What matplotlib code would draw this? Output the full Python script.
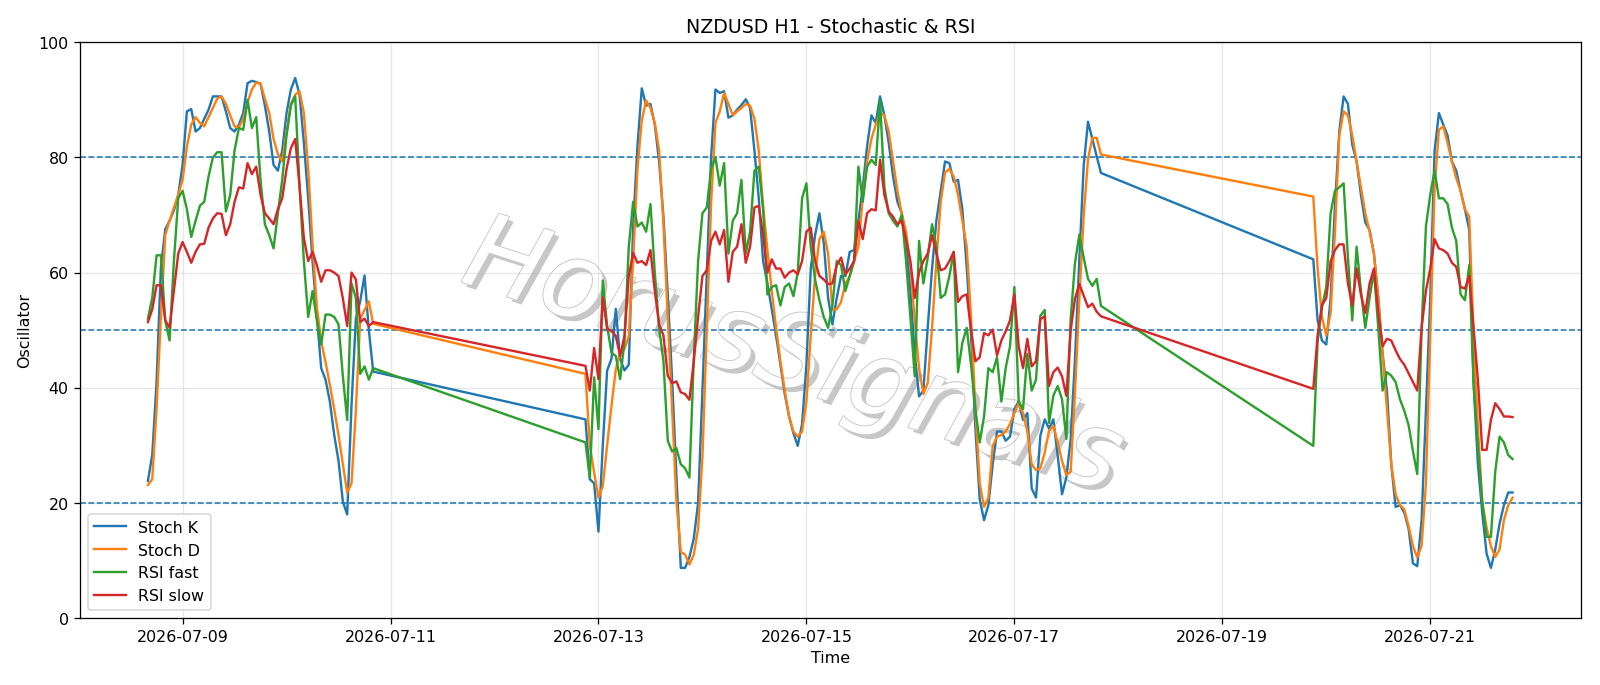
import matplotlib
matplotlib.use("Agg")
import matplotlib.pyplot as plt
import matplotlib.dates as mdates
import matplotlib.patheffects as pe
import numpy as np
import pandas as pd

# ---- data -------------------------------------------------------------
seg_starts = ["2026-07-08 16:00", "2026-07-12 21:00", "2026-07-19 21:00"]
seg_lengths = [53, 120, 47]

stoch_k = [
    # segment 1
    23.8, 28.3, 41, 61, 67.5, 69, 70.8, 73.5, 78.7,
    88, 88.4, 84.5, 85.1, 86.7, 88.3, 90.6, 90.6, 90.6, 88,
    85.1, 84.5, 85.7, 87.7, 92.9, 93.3, 93.1, 92.8, 89, 84.5,
    78.7, 77.7, 81.2, 87.7, 91.8, 93.8, 90.9, 82.5, 72.9, 62,
    52.3, 43.4, 41.4, 37.6, 31.8, 27.3, 20.2, 18, 37, 52,
    55, 59.5, 50, 42.8,
    # segment 2
    34.5, 24.1, 23.4, 15, 30, 43, 45, 53.7, 45, 43,
    44, 68, 82, 92, 89, 89.3, 85.7, 79.3, 69.7, 56.2,
    41.4, 24.7, 8.7, 8.7, 10.6, 13.8, 20, 39.5, 60, 80,
    91.8, 91.2, 91.5, 86.9, 87.3, 88.3, 89.1, 90.1, 88.6, 81.2,
    72.9, 62, 58.1, 53.6, 49.1, 44, 38.9, 35, 32.1, 29.9,
    33.7, 44, 60.7, 66.5, 70.3, 65.2, 55.6, 51, 55.6, 59.4,
    59.4, 63.6, 63.9, 69, 74.8, 81.9, 87.3, 86, 90.6, 87.3,
    82.5, 76.7, 72.3, 70.3, 65.8, 56.8, 45.9, 38.5, 39.5, 50.4,
    60.7, 69, 74.2, 79.3, 79, 75.8, 76.1, 71, 61, 49,
    33, 20.6, 17, 19.6, 26.7, 32.4, 32.4, 30.8, 31.5, 36.3,
    37.6, 34.4, 35.6, 22.5, 20.9, 31.7, 34.5, 32.9, 34.5, 28.2,
    21.5, 24.4, 31.1, 45, 62.3, 78.5, 86.2, 83.2, 80.2, 77.3,
    # segment 3
    62.3, 51.7, 48.2, 47.5, 55.6, 71.6, 84.5, 90.6, 89.3, 82.2,
    79.3, 73.5, 68.7, 67.4, 63.3, 55.6, 45.9, 39.5, 26.7, 19.3,
    19.6, 18.3, 15.5, 9.5, 9, 17, 36, 55.6, 81.2, 87.7,
    85.7, 83.8, 79.3, 77.7, 74.2, 71, 67.4, 40.8, 26.7, 18.3,
    11.2, 8.7, 11.9, 16.4, 19.6, 21.8, 21.8,
]

stoch_d = [
    # segment 1
    23.1, 24.1, 36.3, 52.3, 66.5, 69, 71.3, 73.5, 76.1,
    81.9, 85.7, 87, 86, 85.4, 87, 88.6, 90.2, 90.6, 89.3,
    87.3, 85.4, 85.2, 86.7, 89.6, 91.8, 93, 92.8, 90.2, 87.7,
    83.2, 80.6, 79.3, 84.5, 89.3, 90.9, 91.5, 87.7, 78, 65,
    54, 48, 44.5, 40.5, 36.3, 31.8, 26.7, 21.8, 23.4, 36,
    52, 53.5, 55, 51.1,
    # segment 2
    42.4, 30, 25.3, 20.9, 22.9, 30, 36.8, 43.2, 46.1, 46.7,
    49, 62, 78, 86.4, 89.9, 88.6, 86, 81.2, 68.4, 52.3,
    36.3, 20.2, 11.5, 11, 9.3, 11, 15.5, 28, 50, 72,
    86, 88, 91.2, 89.3, 87.3, 88, 88.6, 89.3, 89, 86.7,
    81.2, 71.6, 63.9, 56.8, 50.4, 44.6, 39.5, 35, 32.4, 31.5,
    32.4, 37.6, 49.1, 59.4, 65.8, 67.1, 63.3, 53.6, 53.6, 54.9,
    58.1, 59.4, 62, 64.5, 72.9, 79.3, 83.2, 85.7, 87.7, 87.3,
    84.5, 79.3, 74.2, 70.3, 67.1, 61.3, 51.7, 43.4, 38.9, 40.8,
    50.4, 62, 72.3, 77.4, 78, 76.7, 73.5, 69, 64.5, 52.3,
    36.3, 23.4, 19.3, 20.9, 29.9, 31.5, 31.8, 32.4, 33.7, 35.6,
    37.3, 35.6, 32.4, 26.7, 25.7, 26, 28.7, 32.5, 33.4, 30.5,
    27.3, 24.8, 25.4, 39.2, 55.4, 69.8, 79.7, 83.4, 83.4, 80.5,
    # segment 3
    73.2, 60.7, 52.3, 49.1, 53, 67.1, 83.8, 88, 87.3, 83.8,
    79.3, 74.8, 70.3, 67.1, 63.3, 55.6, 45.9, 36.3, 26.7, 21.5,
    19.6, 18.9, 16, 12.5, 10.5, 12.5, 23.4, 49, 74.8, 84.8,
    85.4, 82.5, 79.3, 76.4, 74.2, 71, 69.7, 49, 33, 20.2,
    15.7, 12.5, 10.6, 11.9, 17, 19.6, 20.9,
]

rsi_fast = [
    # segment 1
    52, 55.6, 63, 63, 51.7, 48.2, 62, 72.9, 74.2,
    71, 66.2, 69, 71.6, 72.3, 76.7, 80, 80.9, 80.9, 70.6,
    73.5, 81.2, 85.1, 84.8, 90, 85.1, 87, 76, 68.4, 66.5,
    64.2, 70.3, 76.1, 83.8, 89, 90.6, 75, 62, 52.3, 56.8,
    51.7, 47.5, 52.7, 52.7, 52.3, 51, 42, 34.4, 58.1, 55.6,
    42.4, 43.7, 41.4, 43.4,
    # segment 2
    30.5, 24.4, 41.8, 32.8, 58.6, 50.7, 46.1, 45.5, 41.5, 48,
    64.5, 72.3, 68, 68.7, 67.1, 71.9, 60, 50.4, 44.6, 30.8,
    28.9, 29.5, 26.7, 26, 24.4, 45, 62, 70.3, 71.3, 78,
    80, 75.1, 79, 63.3, 69, 70.3, 76.1, 63.3, 67.1, 77.7,
    78.4, 71, 56.2, 57.5, 57.8, 54.3, 57.5, 58.1, 55.9, 60,
    72.9, 75.5, 64.5, 58.8, 55.2, 52.3, 50.4, 54.3, 62, 61.3,
    56.8, 59.4, 62, 78.4, 72.3, 78.4, 79.6, 78.7, 89.9, 74.8,
    70.3, 69, 68, 70, 62, 52.3, 42, 65.5, 58.1, 62.6,
    68.4, 64.5, 55.6, 56.2, 59.4, 63.6, 42.7, 47.8, 50.4, 44,
    36.3, 30.5, 35, 43.4, 42.7, 45.3, 37.6, 43.4, 47.2, 57.5,
    37.6, 36.3, 45.9, 39.5, 41.4, 52.5, 53.5, 33.9, 38.6, 40.3,
    38, 31.1, 52, 61.7, 66.6, 62.6, 58.9, 57.7, 58.9, 54.2,
    # segment 3
    29.9, 48, 54, 57.5, 70.3, 74.2, 74.8, 75.5, 62.6, 51.7,
    64.5, 56.8, 50.4, 55.6, 60.4, 50.4, 39.5, 42.7, 42.1, 41,
    38, 36, 33.5, 29, 25, 50, 68, 73.5, 77.7, 72.9,
    72.9, 71.9, 67.8, 65.5, 56.2, 55.2, 61.3, 40.8, 29.9, 20.2,
    14.1, 14.1, 25.4, 31.5, 30.5, 28.3, 27.6,
]

rsi_slow = [
    # segment 1
    51.4, 53.6, 57.8, 57.8, 51.7, 50.4, 56.8, 63.3, 65.3,
    63.6, 61.7, 63.6, 64.9, 65, 67.8, 69.4, 70.3, 70.2, 66.5,
    68.4, 72.3, 74.8, 74.6, 79, 77.1, 78.4, 73.5, 70.3, 69.4,
    68.4, 71, 72.9, 78, 81.6, 83.2, 75, 66, 62, 63.6,
    61.3, 58.4, 60.4, 60.4, 60, 59.4, 55.5, 50.7, 60, 58.8,
    51.4, 52, 50.7, 51.4,
    # segment 2
    43.8, 39.5, 46.9, 41.5, 55.7, 50.2, 49.9, 49, 45.5, 49,
    59.4, 63.4, 61.7, 62, 61.3, 63.9, 56.8, 51, 49.1, 42.1,
    40.8, 41.1, 39.2, 38.9, 37.9, 44.6, 52.3, 59.4, 60.4, 65.5,
    67.1, 64.9, 67.4, 58.4, 63.6, 64.5, 68.4, 61.7, 64.5, 71.3,
    71.6, 66.5, 60, 62.3, 60.7, 60.7, 59.1, 60, 60.4, 59.7,
    62, 67.1, 67.8, 62, 59.4, 58.8, 58, 58.1, 61.3, 62.6,
    59.7, 60.7, 62, 69, 65.8, 70.3, 71, 70.8, 79.6, 73.5,
    70.6, 69.7, 68.4, 69, 65.8, 62, 55.6, 60, 62, 63.3,
    66.5, 63.3, 60.4, 60.7, 62, 63.6, 54.9, 55.9, 56.2, 50.1,
    44.6, 45.3, 49.5, 49.1, 50.1, 45.6, 48.2, 49.8, 51.7, 56.2,
    47.2, 43.4, 48.5, 43.7, 44.6, 51.9, 52.4, 40.3, 42.7, 43.5,
    42, 38.6, 50, 55.5, 58, 56, 54, 54.6, 53.2, 52.4,
    # segment 3
    39.8, 49.1, 54.3, 55.6, 62, 63.9, 64.9, 64.9, 58.1, 54.3,
    60.7, 56.2, 53, 58.1, 60.7, 53, 47.2, 48.5, 48.2, 46.5,
    45, 44, 42.5, 41, 39.5, 50.4, 56.8, 60.7, 65.8, 64.2,
    63.9, 63.3, 61.7, 61, 57.5, 57.2, 59.4, 50.4, 41.4, 29.2,
    29.2, 34.4, 37.3, 36.3, 35, 35, 34.9,
]

series_labels = ["Stoch K", "Stoch D", "RSI fast", "RSI slow"]
levels = [20, 50, 80]
tick_dates = ["2026-07-09", "2026-07-11", "2026-07-13", "2026-07-15",
              "2026-07-17", "2026-07-19", "2026-07-21"]
title = "NZDUSD H1 - Stochastic & RSI"
watermark = "HorusSignals"

# ---- build time axis ----------------------------------------------------
times = pd.DatetimeIndex(np.concatenate(
    [pd.date_range(s, periods=n, freq="h").values for s, n in zip(seg_starts, seg_lengths)]
))

# ---- figure -------------------------------------------------------------
fig, ax = plt.subplots(figsize=(14, 6), dpi=1600 / 14)
fig.subplots_adjust(left=0.0498, right=0.988, bottom=0.0977, top=0.9373)

ax.text(0.475, 0.45, watermark, transform=ax.transAxes, fontsize=66,
        rotation=-18, style="italic", ha="center", va="center",
        color="white", zorder=0,
        path_effects=[pe.withSimplePatchShadow(offset=(3, -3), shadow_rgbFace="#9a9a9a", alpha=0.55),
                      pe.Stroke(linewidth=1.2, foreground="#c8c8c8"),
                      pe.Normal()])

for vals, lab, col in zip([stoch_k, stoch_d, rsi_fast, rsi_slow], series_labels,
                          ["C0", "C1", "C2", "C3"]):
    ax.plot(times, vals, label=lab, color=col, lw=1.5, zorder=3)

for lvl in levels:
    ax.axhline(lvl, color="C0", ls="--", lw=1, zorder=2)

ax.set_ylim(0, 100)
ax.grid(True, alpha=0.3)
ax.set_title(title)
ax.set_xlabel("Time")
ax.set_ylabel("Oscillator")
ax.set_xticks(pd.to_datetime(tick_dates))
ax.xaxis.set_major_formatter(mdates.DateFormatter("%Y-%m-%d"))
ax.legend(loc="lower left")

fig.savefig("out.png", dpi=1600 / 14)
